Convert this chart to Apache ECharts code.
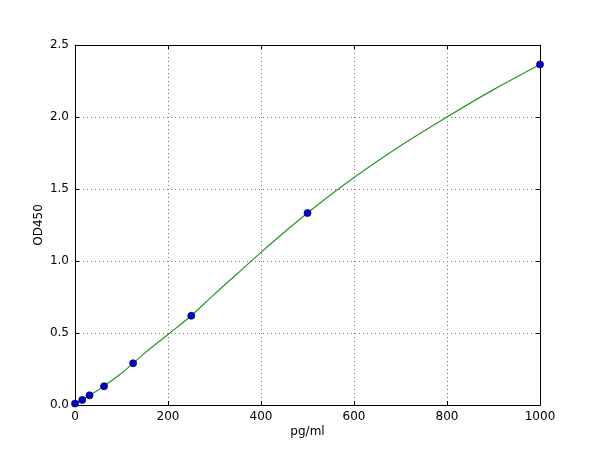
<!DOCTYPE html>
<html>
<head>
<meta charset="utf-8">
<script src="https://cdn.jsdelivr.net/npm/echarts@6/dist/echarts.min.js"></script>
<style>html,body{margin:0;padding:0;background:#fff;}#c{width:600px;height:450px;}</style>
</head>
<body>
<div id="c"></div>
<script>
// Standard points (pg/ml, OD450)
const stdConc = [0, 15.6, 31.25, 62.5, 125, 250, 500, 1000];
const stdOD   = [0.01, 0.035, 0.067, 0.13, 0.29, 0.62, 1.333, 2.365];
// Fitted curve
const curveConc = [0, 50, 100, 150, 200, 250, 300, 350, 400, 450, 500, 550, 600, 700, 800, 900, 1000];
const curveOD   = [0.01, 0.105, 0.22, 0.36, 0.49, 0.62, 0.77, 0.915, 1.06, 1.20, 1.333, 1.46, 1.58, 1.80, 2.00, 2.19, 2.365];
const xTicks = { min: 0, max: 1000, interval: 200 };
const yTicks = { min: 0, max: 2.5, interval: 0.5 };

const font = 'DejaVu Sans';
const chart = echarts.init(document.getElementById('c'));
const axisLine = { show: true, onZero: false, lineStyle: { color: '#000', width: 1 } };
const tick = { show: true, inside: true, length: 4, lineStyle: { color: '#000' } };
const split = { show: true, lineStyle: { color: '#777', type: [1, 3], width: 1 } };
chart.setOption({
  animation: false,
  backgroundColor: '#fff',
  grid: { left: 75, right: 60, top: 45, bottom: 45, containLabel: false },
  xAxis: [
    { type: 'value', min: xTicks.min, max: xTicks.max, interval: xTicks.interval,
      name: 'pg/ml', nameLocation: 'middle', nameGap: 21, nameMoveOverlap: false,
      nameTextStyle: { fontFamily: font, fontSize: 12, color: '#000' },
      axisLine, axisTick: tick, splitLine: split,
      axisLabel: { fontFamily: font, fontSize: 12, color: '#000', margin: 6,
        formatter: v => String(v) } },
    { type: 'value', position: 'top', min: xTicks.min, max: xTicks.max, interval: xTicks.interval,
      axisLine, axisTick: tick, splitLine: { show: false }, axisLabel: { show: false } }
  ],
  yAxis: [
    { type: 'value', min: yTicks.min, max: yTicks.max, interval: yTicks.interval,
      name: 'OD450', nameLocation: 'middle', nameGap: 30, nameMoveOverlap: false,
      nameTextStyle: { fontFamily: font, fontSize: 12, color: '#000' },
      axisLine, axisTick: tick, splitLine: split,
      axisLabel: { fontFamily: font, fontSize: 12, color: '#000', margin: 6,
        formatter: v => v.toFixed(1) } },
    { type: 'value', position: 'right', min: yTicks.min, max: yTicks.max, interval: yTicks.interval,
      axisLine, axisTick: tick, splitLine: { show: false }, axisLabel: { show: false } }
  ],
  series: [
    { type: 'line', data: curveConc.map((x, i) => [x, curveOD[i]]), smooth: 0.3,
      showSymbol: false, lineStyle: { color: '#239623', width: 1.2 }, z: 2 },
    { type: 'scatter', data: stdConc.map((x, i) => [x, stdOD[i]]), symbolSize: 7,
      itemStyle: { color: '#0000d0', borderColor: '#00005a', borderWidth: 0.8, opacity: 1 }, z: 3 }
  ]
});
</script>
</body>
</html>
